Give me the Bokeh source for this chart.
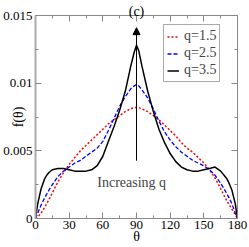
from bokeh.plotting import figure
from bokeh.models import (Range1d, LinearAxis, FixedTicker, CustomJSTickFormatter,
                          Label, Arrow, NormalHead)
from bokeh.embed import file_html
from bokeh.resources import INLINE

# ---- data ----
theta = [0, 2, 5, 8, 10, 12, 15, 20, 25, 30, 35, 40, 45, 50, 55, 60, 65, 70, 75, 80,
         85, 88, 90, 92, 95, 100, 105, 110, 115, 120, 125, 130, 135, 140, 145, 150,
         155, 160, 165, 168, 170, 172, 175, 178, 180]

f_q15 = [0, 0.0001, 0.0004, 0.0008, 0.0011, 0.0014, 0.0019, 0.0027, 0.0034, 0.0040,
         0.0045, 0.0050, 0.0054, 0.0058, 0.0062, 0.0066, 0.0070, 0.0073, 0.0076, 0.0079,
         0.0081, 0.0082, 0.0082, 0.0082, 0.0081, 0.0079, 0.0076, 0.0073, 0.0069, 0.0065,
         0.0061, 0.0056, 0.0052, 0.0049, 0.0045, 0.0041, 0.0036, 0.0030, 0.0022, 0.0017,
         0.0014, 0.0011, 0.0007, 0.0003, 0]

f_q25 = [0, 0.0004, 0.0010, 0.0015, 0.0018, 0.0021, 0.0025, 0.0031, 0.0035, 0.0038,
         0.0041, 0.0043, 0.0046, 0.0049, 0.0052, 0.0057, 0.0065, 0.0074, 0.0083, 0.0090,
         0.0096, 0.0098, 0.0099, 0.0098, 0.0095, 0.0089, 0.0081, 0.0072, 0.0064, 0.0058,
         0.0053, 0.0049, 0.0046, 0.0043, 0.0041, 0.0039, 0.0036, 0.0032, 0.0026, 0.0022,
         0.0019, 0.0016, 0.0011, 0.0004, 0]

f_q35 = [0, 0.0011, 0.0022, 0.0029, 0.0032, 0.0034, 0.0036, 0.0037, 0.0037, 0.0036,
         0.0035, 0.0035, 0.0035, 0.0036, 0.0039, 0.0046, 0.0057, 0.0068, 0.0080, 0.0094,
         0.0113, 0.0123, 0.0128, 0.0124, 0.0112, 0.0094, 0.0079, 0.0066, 0.0056, 0.0048,
         0.0042, 0.0038, 0.0036, 0.0035, 0.0035, 0.0036, 0.0037, 0.0038, 0.0035, 0.0032,
         0.0030, 0.0027, 0.0021, 0.0011, 0]

series_labels = ["q=1.5", "q=2.5", "q=3.5"]
x_ticks = [0, 30, 60, 90, 120, 150, 180]
x_minor = [15, 45, 75, 105, 135, 165]
y_ticks = [0, 0.005, 0.01, 0.015]
y_minor = [0.0025, 0.0075, 0.0125]

FONT = "Liberation Serif"
AX_GRAY = "#888888"

p = figure(width=249, height=247, output_backend="svg", toolbar_location=None,
           x_range=Range1d(0, 180), y_range=Range1d(0, 0.015),
           min_border_left=35, min_border_right=12, min_border_top=15, min_border_bottom=29,
           x_axis_type=None, y_axis_type=None)
p.xgrid.visible = False
p.ygrid.visible = False
p.outline_line_color = None
p.background_fill_color = "white"
p.border_fill_color = "white"

xt = FixedTicker(ticks=x_ticks, minor_ticks=x_minor)
yt = FixedTicker(ticks=y_ticks, minor_ticks=y_minor)
yfmt = CustomJSTickFormatter(code="return String(Math.round(tick*1000)/1000)")
xfmt = CustomJSTickFormatter(code="return String(Math.round(tick))")
blank = CustomJSTickFormatter(code="return ''")


def style_axis(ax, lw, color):
    ax.axis_line_color = color
    ax.axis_line_width = lw
    ax.major_tick_line_color = AX_GRAY
    ax.minor_tick_line_color = AX_GRAY
    ax.major_tick_in = 6
    ax.major_tick_out = 0
    ax.minor_tick_in = 3
    ax.minor_tick_out = 0
    ax.major_label_text_font = FONT
    ax.major_label_text_font_size = "13px"
    ax.major_label_text_color = "black"
    ax.major_label_standoff = 3
    ax.axis_label_text_font = FONT
    ax.axis_label_text_font_style = "normal"
    ax.axis_label_text_color = "black"


left = LinearAxis(ticker=yt, formatter=yfmt, axis_label="f(θ)")
style_axis(left, 2, "#aaaaaa")
left.axis_label_text_font_size = "14px"
left.axis_label_standoff = -26
bottom = LinearAxis(ticker=xt, formatter=xfmt, axis_label="θ")
style_axis(bottom, 1, AX_GRAY)
bottom.major_label_standoff = 2
bottom.axis_label_text_font_size = "14px"
bottom.axis_label_standoff = -3
right = LinearAxis(ticker=yt, formatter=blank)
style_axis(right, 1, AX_GRAY)
right.major_label_standoff = 0
top = LinearAxis(ticker=xt, formatter=blank, axis_label="(c)")
style_axis(top, 1, AX_GRAY)
top.major_label_standoff = 0
top.axis_label_text_font_size = "14px"
top.axis_label_standoff = -3
p.add_layout(left, "left")
p.add_layout(bottom, "below")
p.add_layout(right, "right")
p.add_layout(top, "above")

p.line(theta, f_q15, line_color="red", line_width=1.5, line_dash="2 2",
       legend_label=series_labels[0])
p.line(theta, f_q25, line_color="blue", line_width=1.3, line_dash="4 2",
       legend_label=series_labels[1])
p.line(theta, f_q35, line_color="black", line_width=1.5,
       legend_label=series_labels[2])

p.add_layout(Arrow(end=NormalHead(size=7, fill_color="black", line_color="black"),
                   x_start=90, y_start=0.00427, x_end=90, y_end=0.0141,
                   line_color="black", line_width=1))

p.add_layout(Label(x=85.7, y=0.00267, text="Increasing q", text_font=FONT,
                   text_font_size="14px", text_align="center", text_baseline="alphabetic"))

lg = p.legend[0]
lg.location = (128, 136)
lg.label_text_font = FONT
lg.label_text_font_size = "14px"
lg.glyph_width = 12
lg.glyph_height = 15
lg.label_height = 15
lg.label_width = 0
lg.label_standoff = 5
lg.spacing = 1
lg.padding = 3
lg.margin = 0
lg.border_line_color = "#555555"
lg.border_line_width = 1
lg.background_fill_color = "white"
lg.background_fill_alpha = 1

open("out.html", "w").write(file_html(p, INLINE))
